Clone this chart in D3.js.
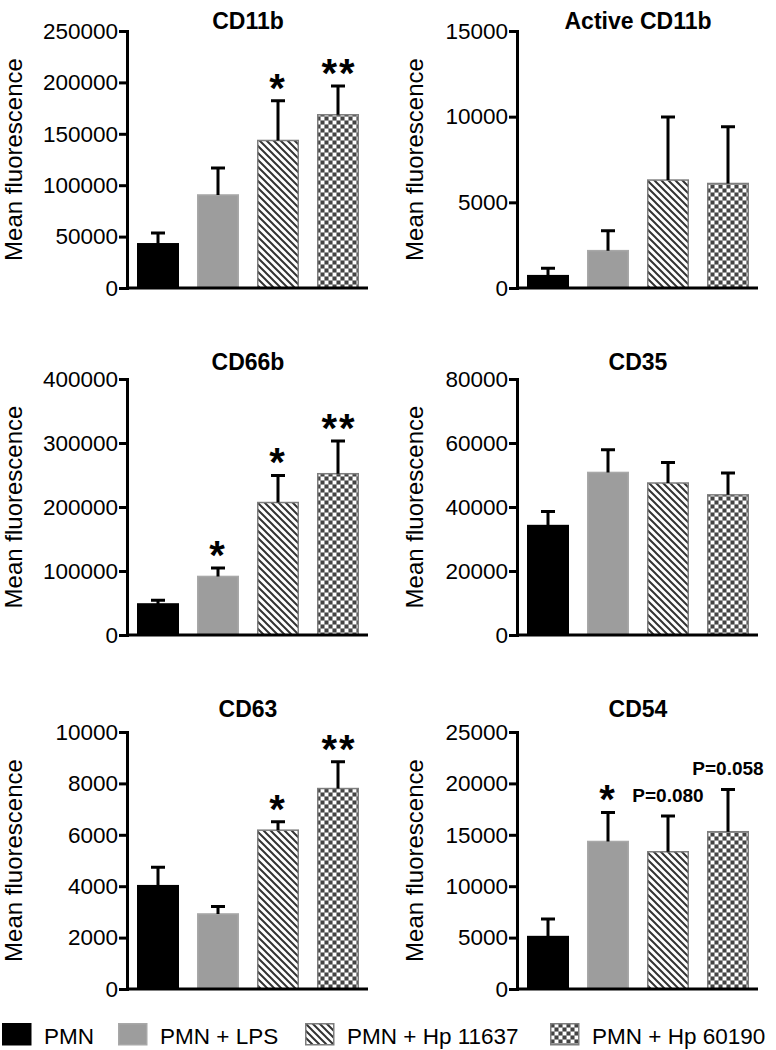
<!DOCTYPE html>
<html>
<head>
<meta charset="utf-8">
<script src="https://cdn.jsdelivr.net/npm/d3@7"></script>
<style>
  body { margin: 0; background: #fff; }
  svg { display: block; font-family: "Liberation Sans", Arial, sans-serif; }
</style>
</head>
<body>
<div id="chart"></div>
<script>
// groups shown in every panel
const groups = ["PMN", "PMN + LPS", "PMN + Hp 11637", "PMN + Hp 60190"];

const panelTitles = ["CD11b", "Active CD11b", "CD66b", "CD35", "CD63", "CD54"];
const yMax = [250000, 15000, 400000, 80000, 10000, 25000];
const yStep = [50000, 5000, 100000, 20000, 2000, 5000];

// mean values
const means = [
  [43000, 90500, 143500, 168500],
  [720, 2180, 6300, 6100],
  [48500, 91500, 207000, 252000],
  [34200, 50800, 47500, 43800],
  [4020, 2920, 6180, 7800],
  [5100, 14350, 13350, 15300]
];
// upper error bar (SEM)
const sems = [
  [10500, 26200, 38700, 28000],
  [430, 1160, 3680, 3310],
  [5900, 13100, 42400, 51200],
  [4400, 7100, 6400, 6800],
  [720, 290, 330, 1040],
  [1720, 2830, 3470, 4110]
];
const marks = [
  ["", "", "*", "**"],
  ["", "", "", ""],
  ["", "*", "*", "**"],
  ["", "", "", ""],
  ["", "", "*", "**"],
  ["", "*", "P=0.080", "P=0.058"]
];

const W = 776, H = 1050;
const colX = [0, 390];
const rowTop = [31, 379, 732];
const rowBottom = [288, 635, 989];
const titleY = [29, 370, 717];
const labelX = [22, 423];

const svg = d3.select("#chart").append("svg")
    .attr("width", W)
    .attr("height", H);

const defs = svg.append("defs");

// diagonal hatch
const hatch = defs.append("pattern")
    .attr("id", "hatch")
    .attr("patternUnits", "userSpaceOnUse")
    .attr("width", 7).attr("height", 7);
hatch.append("rect").attr("width", 7).attr("height", 7).attr("fill", "#fff");
hatch.append("path")
    .attr("d", "M0,0L7,7M-2,5L2,9M5,-2L9,2")
    .attr("stroke", "#333")
    .attr("stroke-width", 2);

// checker
const checker = defs.append("pattern")
    .attr("id", "checker")
    .attr("patternUnits", "userSpaceOnUse")
    .attr("width", 8).attr("height", 8);
checker.append("rect").attr("width", 8).attr("height", 8).attr("fill", "#fff");
checker.append("rect").attr("width", 4).attr("height", 4).attr("fill", "#444");
checker.append("rect").attr("x", 4).attr("y", 4).attr("width", 4).attr("height", 4).attr("fill", "#444");
checker.append("path")
    .attr("d", "M0,0.5H8M0,4.5H8M0.5,0V8M4.5,0V8")
    .attr("stroke", "#999").attr("stroke-width", 1);

const fills = ["#000", "#9d9d9d", "url(#hatch)", "url(#checker)"];
const borders = ["#000", "#a8a8a8", "#7d7d7d", "#7d7d7d"];

const x = d3.scaleBand()
    .domain(groups)
    .range([128, 368])
    .paddingInner(0.3)
    .paddingOuter(0.15);

panelTitles.forEach((title, p) => {
  const col = p % 2, row = Math.floor(p / 2);
  const g = svg.append("g").attr("transform", `translate(${colX[col]},0)`);

  const y = d3.scaleLinear()
      .domain([0, yMax[p]])
      .range([rowBottom[row], rowTop[row]]);

  const rows = groups.map((k, i) => ({ k, i, m: means[p][i], e: sems[p][i], a: marks[p][i] }));

  // bars
  g.selectAll("rect.bar")
    .data(rows)
    .join("rect")
      .attr("class", "bar")
      .attr("x", d => x(d.k) + 0.75)
      .attr("width", x.bandwidth() - 1.5)
      .attr("y", d => y(d.m))
      .attr("height", d => y(0) - y(d.m))
      .attr("fill", d => fills[d.i])
      .attr("stroke", d => borders[d.i])
      .attr("stroke-width", 1.5);

  // error bars (upper only)
  const cx = d => x(d.k) + x.bandwidth() / 2;
  g.selectAll("path.err")
    .data(rows)
    .join("path")
      .attr("class", "err")
      .attr("d", d => `M${cx(d)},${y(d.m)}V${y(d.m + d.e)}M${cx(d) - 7},${y(d.m + d.e)}H${cx(d) + 7}`)
      .attr("fill", "none")
      .attr("stroke", "#000")
      .attr("stroke-width", 3);

  // significance marks
  const star = d => d.a.startsWith("*");
  g.selectAll("text.mark")
    .data(rows.filter(d => d.a))
    .join("text")
      .attr("class", "mark")
      .attr("x", d => cx(d) + (star(d) ? (d.a.length - 1) : 0))
      .attr("y", d => star(d) ? y(d.m + d.e) + 1 : y(d.m + d.e) - 14)
      .attr("text-anchor", "middle")
      .attr("font-weight", "bold")
      .attr("font-size", d => star(d) ? 40 : 19)
      .attr("letter-spacing", d => star(d) ? 2 : 0)
      .text(d => d.a);

  // y axis
  const yAxis = g.append("g")
      .attr("transform", "translate(127,0)")
      .call(d3.axisLeft(y)
        .tickValues(d3.range(0, yMax[p] + 1, yStep[p]))
        .tickFormat(d3.format("d"))
        .tickSize(8)
        .tickSizeOuter(0)
        .tickPadding(1));
  yAxis.select(".domain").attr("stroke-width", 3).attr("stroke-linecap", "square");
  yAxis.selectAll(".tick line").attr("stroke-width", 3);
  yAxis.selectAll(".tick text")
      .attr("font-size", 22.5)
      .attr("font-family", "Liberation Sans, Arial, sans-serif")
      .attr("fill", "#000");

  // x axis line
  const xAxis = g.append("g")
      .attr("transform", `translate(0,${y(0)})`)
      .call(d3.axisBottom(x).tickSize(0).tickSizeOuter(0).tickFormat(""));
  xAxis.selectAll(".tick").remove();
  xAxis.select(".domain")
      .attr("d", `M127,0H368`)
      .attr("stroke-width", 3);

  // title
  g.append("text")
      .attr("x", (128 + 368) / 2)
      .attr("y", titleY[row])
      .attr("text-anchor", "middle")
      .attr("font-weight", "bold")
      .attr("font-size", 23)
      .text(title);

  // y label
  g.append("text")
      .attr("transform", `translate(${labelX[col] - colX[col]},${(rowTop[row] + rowBottom[row]) / 2}) rotate(-90)`)
      .attr("text-anchor", "middle")
      .attr("font-size", 24)
      .text("Mean fluorescence");
});

// legend
const legendX = [2, 118, 305, 550];
const legend = svg.append("g").selectAll("g")
  .data(groups)
  .join("g")
    .attr("transform", (d, i) => `translate(${legendX[i]},1023)`);
legend.append("rect")
    .attr("x", 0.75).attr("y", 0.75)
    .attr("width", 28).attr("height", 21)
    .attr("fill", (d, i) => fills[i])
    .attr("stroke", (d, i) => borders[i])
    .attr("stroke-width", 1.5);
legend.append("text")
    .attr("x", 42)
    .attr("y", 21)
    .attr("font-size", 22.5)
    .text(d => d);
</script>
</body>
</html>
